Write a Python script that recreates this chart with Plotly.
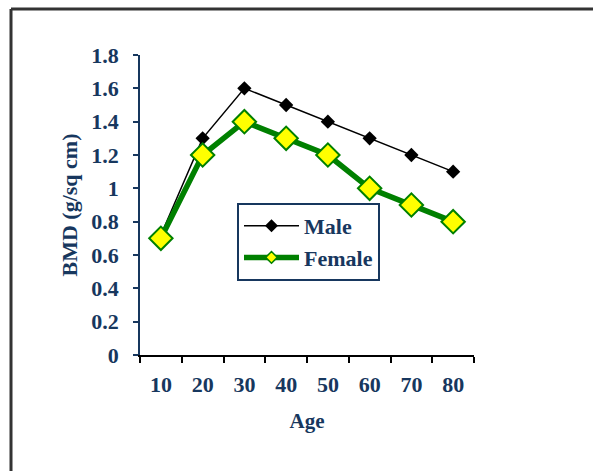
import plotly.graph_objects as go

# Bone mineral density by age group
ages = ["10", "20", "30", "40", "50", "60", "70", "80"]
male_bmd = [0.72, 1.3, 1.6, 1.5, 1.4, 1.3, 1.2, 1.1]
female_bmd = [0.7, 1.2, 1.4, 1.3, 1.2, 1.0, 0.9, 0.8]
y_ticks = [0, 0.2, 0.4, 0.6, 0.8, 1, 1.2, 1.4, 1.6, 1.8]

NAVY = "#17375E"
GREEN = "#008000"
SERIF = "Liberation Serif"

W, H = 593, 471
L, R, T, B = 140, 119, 55, 116
PW, PH = W - L - R, H - T - B


def px_x(px):
    return (px - L) / PW


def px_y(py):
    return (H - B - py) / PH


def bold(size):
    return dict(family=SERIF, size=size, color=NAVY, weight="bold")


male_line = dict(color="black", width=1.5)
female_line = dict(color=GREEN, width=5.5)

fig = go.Figure()
fig.add_trace(go.Scatter(
    x=ages, y=male_bmd, name="Male", mode="lines+markers",
    line=male_line, showlegend=False,
    marker=dict(symbol="diamond", size=11, color="black"),
))
fig.add_trace(go.Scatter(
    x=ages, y=female_bmd, name="Female", mode="lines+markers",
    line=female_line, showlegend=False,
    marker=dict(symbol="diamond", size=18, color="#FFFF00",
                line=dict(color=GREEN, width=2)),
))

# Legend entries with smaller key symbols
fig.add_trace(go.Scatter(
    x=[None], y=[None], name="Male", mode="lines+markers",
    line=male_line,
    marker=dict(symbol="diamond", size=10, color="black"),
))
fig.add_trace(go.Scatter(
    x=[None], y=[None], name="Female", mode="lines+markers",
    line=female_line,
    marker=dict(symbol="diamond", size=9, color="#FFFF00",
                line=dict(color=GREEN, width=1.5)),
))

# Outer frame: left and top edges
frame = dict(type="line", xref="paper", yref="paper",
             line=dict(color="#333333", width=3), layer="above")
fig.add_shape(**frame, x0=px_x(11), x1=px_x(593), y0=px_y(9), y1=px_y(9))
fig.add_shape(**frame, x0=px_x(11), x1=px_x(11), y0=px_y(9), y1=px_y(471))

fig.update_layout(
    width=W, height=H,
    margin=dict(l=L, r=R, t=T, b=B, pad=0),
    paper_bgcolor="white", plot_bgcolor="white",
    font=dict(family=SERIF, color=NAVY),
    showlegend=True,
    legend=dict(
        x=px_x(237), y=px_y(203), xanchor="left", yanchor="top",
        bordercolor=NAVY, borderwidth=2, bgcolor="white",
        font=bold(22), itemwidth=55, tracegroupgap=0,
    ),
    xaxis=dict(
        type="category", range=[-0.5, 7.5], tickson="boundaries",
        showline=True, linecolor="black", linewidth=2,
        ticks="outside", ticklen=6, tickcolor="black", tickwidth=1.5,
        ticklabelstandoff=9,
        showgrid=False, zeroline=False,
        tickfont=bold(22),
        title=dict(text="Age", standoff=17, font=bold(21)),
    ),
    yaxis=dict(
        range=[0, 1.8], tickvals=y_ticks,
        ticktext=[f"{v:g}" for v in y_ticks],
        showline=True, linecolor=NAVY, linewidth=1.5,
        ticks="outside", ticklen=5, tickcolor=NAVY, tickwidth=1.5,
        ticklabelstandoff=10,
        showgrid=False, zeroline=False,
        tickfont=bold(22),
        title=dict(text="BMD (g/sq cm)", standoff=8, font=bold(22)),
    ),
)

fig.write_html("out.html")
